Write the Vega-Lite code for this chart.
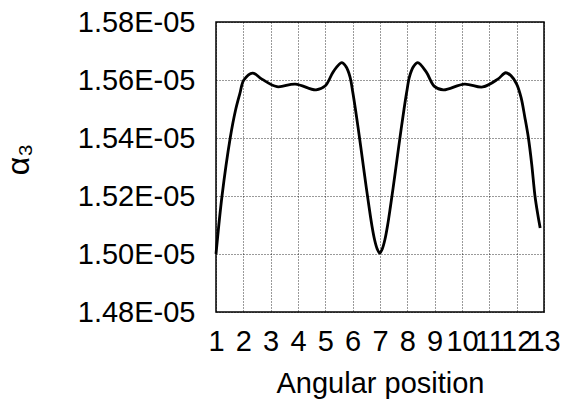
{
  "$schema": "https://vega.github.io/schema/vega-lite/v6.json",
  "autosize": "none",
  "width": 328,
  "height": 290,
  "padding": {"left": 216, "top": 22, "right": 23, "bottom": 98},
  "background": "white",
  "config": {
    "font": "Liberation Sans",
    "view": {"stroke": "black", "strokeWidth": 1.5},
    "axis": {
      "grid": true,
      "gridColor": "#000000",
      "gridDash": [1, 2],
      "gridWidth": 0.8,
      "gridOpacity": 1,
      "domain": false,
      "ticks": false,
      "labelFont": "Liberation Sans",
      "labelFontSize": 29,
      "labelColor": "black",
      "titleFont": "Liberation Sans",
      "titleColor": "black",
      "titleFontWeight": "normal"
    }
  },
  "data": {
    "values": [
      {"pos": 1.00, "alpha": 1.5000e-5},
      {"pos": 1.22, "alpha": 1.5200e-5},
      {"pos": 1.52, "alpha": 1.5400e-5},
      {"pos": 1.71, "alpha": 1.5494e-5},
      {"pos": 1.87, "alpha": 1.5552e-5},
      {"pos": 2.02, "alpha": 1.5600e-5},
      {"pos": 2.34, "alpha": 1.5624e-5},
      {"pos": 2.68, "alpha": 1.5603e-5},
      {"pos": 3.23, "alpha": 1.5577e-5},
      {"pos": 3.90, "alpha": 1.5586e-5},
      {"pos": 4.66, "alpha": 1.5566e-5},
      {"pos": 5.00, "alpha": 1.5580e-5},
      {"pos": 5.30, "alpha": 1.5630e-5},
      {"pos": 5.60, "alpha": 1.5660e-5},
      {"pos": 5.75, "alpha": 1.5647e-5},
      {"pos": 5.90, "alpha": 1.5612e-5},
      {"pos": 6.00, "alpha": 1.5560e-5},
      {"pos": 6.10, "alpha": 1.5500e-5},
      {"pos": 6.20, "alpha": 1.5435e-5},
      {"pos": 6.30, "alpha": 1.5367e-5},
      {"pos": 6.40, "alpha": 1.5297e-5},
      {"pos": 6.50, "alpha": 1.5228e-5},
      {"pos": 6.60, "alpha": 1.5162e-5},
      {"pos": 6.70, "alpha": 1.5100e-5},
      {"pos": 6.80, "alpha": 1.5050e-5},
      {"pos": 6.90, "alpha": 1.5017e-5},
      {"pos": 6.99, "alpha": 1.5003e-5},
      {"pos": 7.08, "alpha": 1.5017e-5},
      {"pos": 7.18, "alpha": 1.5050e-5},
      {"pos": 7.28, "alpha": 1.5100e-5},
      {"pos": 7.38, "alpha": 1.5162e-5},
      {"pos": 7.48, "alpha": 1.5228e-5},
      {"pos": 7.58, "alpha": 1.5297e-5},
      {"pos": 7.68, "alpha": 1.5367e-5},
      {"pos": 7.78, "alpha": 1.5435e-5},
      {"pos": 7.88, "alpha": 1.5500e-5},
      {"pos": 7.98, "alpha": 1.5560e-5},
      {"pos": 8.08, "alpha": 1.5612e-5},
      {"pos": 8.23, "alpha": 1.5647e-5},
      {"pos": 8.38, "alpha": 1.5660e-5},
      {"pos": 8.69, "alpha": 1.5628e-5},
      {"pos": 8.99, "alpha": 1.5578e-5},
      {"pos": 9.32, "alpha": 1.5566e-5},
      {"pos": 10.09, "alpha": 1.5586e-5},
      {"pos": 10.76, "alpha": 1.5576e-5},
      {"pos": 11.31, "alpha": 1.5603e-5},
      {"pos": 11.60, "alpha": 1.5625e-5},
      {"pos": 11.79, "alpha": 1.5615e-5},
      {"pos": 12.00, "alpha": 1.5586e-5},
      {"pos": 12.16, "alpha": 1.5540e-5},
      {"pos": 12.30, "alpha": 1.5471e-5},
      {"pos": 12.43, "alpha": 1.5400e-5},
      {"pos": 12.55, "alpha": 1.5310e-5},
      {"pos": 12.67, "alpha": 1.5200e-5},
      {"pos": 12.77, "alpha": 1.5138e-5},
      {"pos": 12.86, "alpha": 1.5090e-5}
    ]
  },
  "mark": {"type": "line", "color": "black", "strokeWidth": 2.8, "interpolate": "catmull-rom"},
  "encoding": {
    "x": {
      "field": "pos",
      "type": "quantitative",
      "scale": {"domain": [1, 13], "nice": false, "zero": false},
      "axis": {
        "values": [1, 2, 3, 4, 5, 6, 7, 8, 9, 10, 11, 12, 13],
        "format": "d",
        "labelPadding": 15,
        "labelFlush": false,
        "labelOverlap": false,
        "title": "Angular position",
        "titleFontSize": 29,
        "titlePadding": 13
      }
    },
    "y": {
      "field": "alpha",
      "type": "quantitative",
      "scale": {"domain": [1.48e-5, 1.58e-5], "nice": false, "zero": false},
      "axis": {
        "values": [1.48e-5, 1.50e-5, 1.52e-5, 1.54e-5, 1.56e-5, 1.58e-5],
        "labelExpr": "format(datum.value * 1e5, '.2f') + 'E-05'",
        "labelPadding": 21,
        "labelFlush": false,
        "labelOverlap": false,
        "title": "α₃",
        "titleFontSize": 32,
        "titleX": -198,
        "titleY": 137,
        "titleAlign": "center",
        "titleBaseline": "middle"
      }
    }
  }
}
